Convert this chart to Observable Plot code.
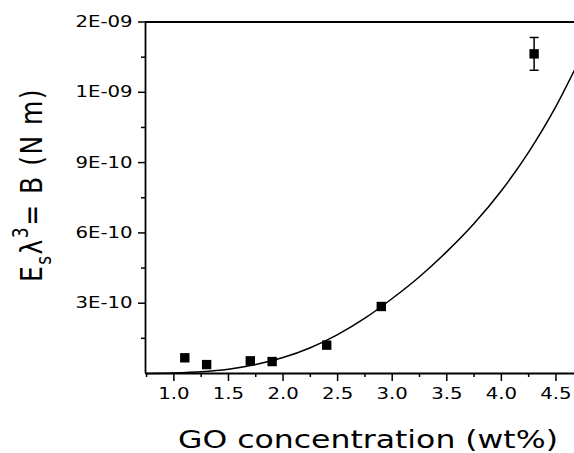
<!DOCTYPE html>
<html>
<head>
<meta charset="utf-8">
<script src="https://cdn.jsdelivr.net/npm/d3@7"></script>
<script src="https://cdn.jsdelivr.net/npm/@observablehq/plot@0.6"></script>
<style>
  html, body { margin: 0; padding: 0; background: #fff; }
  #chart { width: 574px; height: 453px; overflow: hidden; }
  svg { font-family: "DejaVu Sans", Verdana, sans-serif; }
</style>
</head>
<body>
<div id="chart"></div>
<script>
// Measured data points
const conc = [1.1, 1.3, 1.7, 1.9, 2.4, 2.9, 4.3];
const bValues = [0.67e-10, 0.38e-10, 0.54e-10, 0.51e-10, 1.21e-10, 2.86e-10, 13.64e-10];
const bErrors = [0, 0, 0, 0, 0, 0, 0.70e-10];

// Fitted curve
const fitX = [0.75, 1.0, 1.25, 1.5, 1.75, 2.0, 2.25, 2.5, 2.75, 3.0, 3.25, 3.5, 3.75, 4.0, 4.25, 4.5, 4.67];
const fitY = [0.0, 0.02e-10, 0.07e-10, 0.18e-10, 0.38e-10, 0.68e-10, 1.10e-10, 1.66e-10, 2.36e-10, 3.20e-10, 4.13e-10, 5.20e-10, 6.40e-10, 7.80e-10, 9.45e-10, 11.40e-10, 12.95e-10];

// Axes
const xTicks = [1.0, 1.5, 2.0, 2.5, 3.0, 3.5, 4.0, 4.5];
const xTickLabels = ["1.0", "1.5", "2.0", "2.5", "3.0", "3.5", "4.0", "4.5"];
const xMinorTicks = [0.75, 1.25, 1.75, 2.25, 2.75, 3.25, 3.75, 4.25];
const yTicks = [3e-10, 6e-10, 9e-10, 1.2e-9, 1.5e-9];
const yTickLabels = ["3E-10", "6E-10", "9E-10", "1E-09", "2E-09"];
const yMinorTicks = [1.5e-10, 4.5e-10, 7.5e-10, 10.5e-10, 13.5e-10];
const xDomain = [0.74, 4.67];
const yDomain = [0, 1.5e-9];
const xTitle = "GO concentration (wt%)";

const stretch = 1.23; // the reference's text is stretched horizontally

const points = conc.map((c, i) => ({c, b: bValues[i], e: bErrors[i]}));
const errPts = points.filter(d => d.e > 0);
const fit = fitX.map((x, i) => ({x, y: fitY[i]}));

const capSymbol = { draw(ctx, size) { const w = 4.5; ctx.moveTo(-w, 0); ctx.lineTo(w, 0); } };
const blank = () => "";

const plot = Plot.plot({
  width: 574,
  height: 453,
  marginLeft: 145,
  marginRight: 0,
  marginTop: 21.5,
  marginBottom: 80,
  style: { fontFamily: "DejaVu Sans, Verdana, sans-serif", fontSize: "16px", background: "#fff", color: "#000" },
  x: { domain: xDomain },
  y: { domain: yDomain },
  marks: [
    Plot.axisX({ ticks: xTicks, tickFormat: (d, i) => xTickLabels[i], tickSize: 8, tickPadding: 6, label: null, strokeWidth: 1.5, fontSize: 16 }),
    Plot.axisX({ ticks: xMinorTicks, tickFormat: blank, tickSize: 4, label: null, strokeWidth: 1.5 }),
    Plot.axisY({ ticks: yTicks, tickFormat: (d, i) => yTickLabels[i], tickSize: 7, tickPadding: 6, label: null, strokeWidth: 1.5, fontSize: 16 }),
    Plot.axisY({ ticks: yMinorTicks, tickFormat: blank, tickSize: 4, label: null, strokeWidth: 1.5 }),
    Plot.ruleX([xDomain[0]], { strokeWidth: 1.8 }),
    Plot.ruleY([yDomain[0], yDomain[1]], { strokeWidth: 1.8 }),
    Plot.line(fit, { x: "x", y: "y", curve: "monotone-x", stroke: "#000", strokeWidth: 1.5 }),
    Plot.ruleX(errPts, { x: "c", y1: d => d.b - d.e, y2: d => d.b + d.e, strokeWidth: 1.5 }),
    Plot.dot(errPts, { x: "c", y: d => d.b - d.e, symbol: capSymbol, stroke: "#000", strokeWidth: 1.5 }),
    Plot.dot(errPts, { x: "c", y: d => d.b + d.e, symbol: capSymbol, stroke: "#000", strokeWidth: 1.5 }),
    Plot.dot(points, { x: "c", y: "b", symbol: "square", r: 5.3, fill: "#000", stroke: "none" })
  ]
});

document.getElementById("chart").appendChild(plot);

const svg = d3.select(plot);

// widen tick label glyphs like the reference
svg.selectAll('g[aria-label$="tick label"] text').each(function () {
  const el = this;
  let t = el.getAttribute("transform");
  if (!t) {
    const x = el.getAttribute("x") || 0, y = el.getAttribute("y") || 0;
    t = `translate(${x},${y})`;
    el.setAttribute("x", 0); el.setAttribute("y", 0);
  }
  el.setAttribute("transform", t + ` scale(${stretch},1)`);
});

// x title
svg.append("text")
  .attr("transform", `translate(368,448) scale(1.26,1)`)
  .attr("text-anchor", "middle")
  .attr("font-size", 25)
  .attr("fill", "#000")
  .text(xTitle);
// y title with subscript and superscript
const yt = svg.append("text")
  .attr("transform", `translate(42,185) rotate(-90) scale(1,${stretch})`)
  .attr("text-anchor", "middle")
  .attr("font-size", 25)
  .attr("letter-spacing", 1.5)
  .attr("fill", "#000");
yt.append("tspan").text("E");
yt.append("tspan").attr("font-size", 17).attr("dy", 7).text("s");
yt.append("tspan").attr("dy", -7).text("λ");
yt.append("tspan").attr("font-size", 17).attr("dy", -11).text("3");
yt.append("tspan").attr("dy", 11).text("= B (N m)");
</script>
</body>
</html>
